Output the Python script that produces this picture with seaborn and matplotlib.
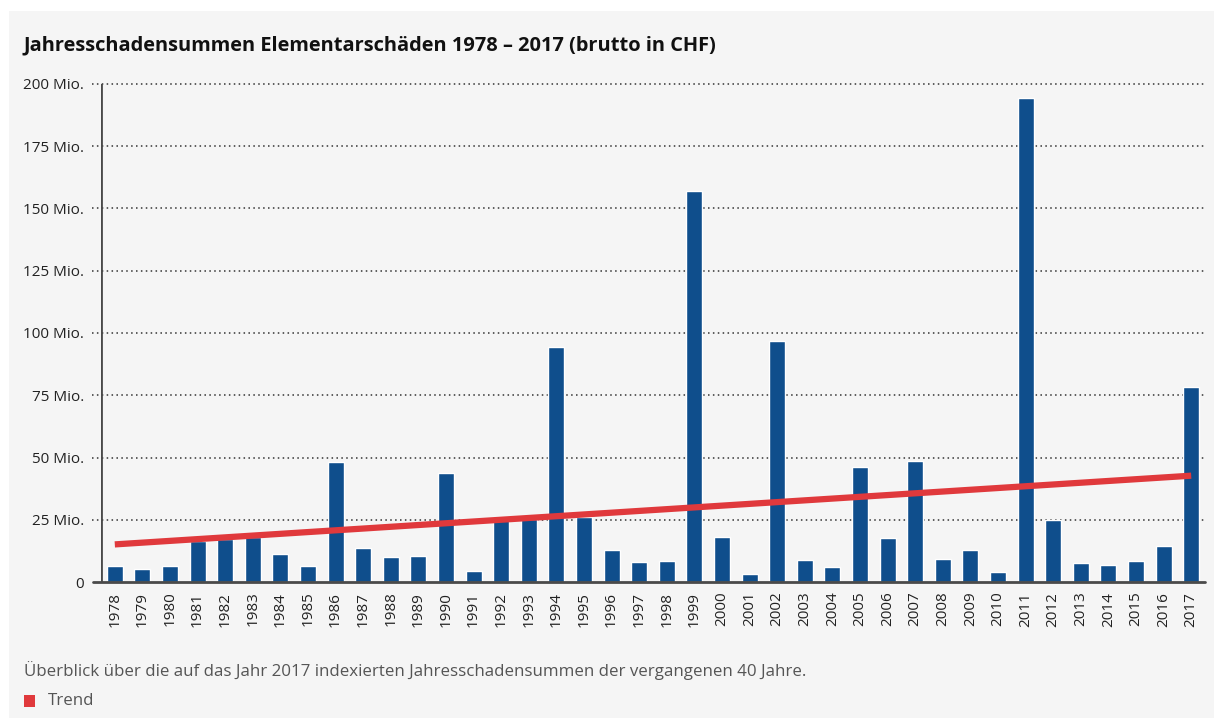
import numpy as np
import pandas as pd
import matplotlib
matplotlib.use("Agg")
import matplotlib.pyplot as plt
import seaborn as sns
from matplotlib.patches import Rectangle

# Daten (Mio. CHF, indexiert auf 2017)
years = [str(y) for y in range(1978, 2018)]
damage = [6.5, 5.4, 6.5, 16.6, 17.3, 17.9, 11.4, 6.5, 48.3, 13.8,
          10.2, 10.6, 43.9, 4.5, 26.2, 25.2, 94.2, 26.2, 13.0, 8.2,
          8.6, 156.9, 18.2, 3.3, 96.6, 9.0, 6.2, 46.3, 17.8, 48.7,
          9.4, 13.0, 4.1, 194.3, 25.0, 7.8, 7.0, 8.6, 14.6, 78.5]
trend_years = ["1978", "2017"]
trend_values = [15.1, 42.7]
y_ticks = [0, 25, 50, 75, 100, 125, 150, 175, 200]
y_labels = ["0"] + [f"{v} Mio." for v in y_ticks[1:]]

TITLE = "Jahresschadensummen Elementarschäden 1978 – 2017 (brutto in CHF)"
NOTE = "Überblick über die auf das Jahr 2017 indexierten Jahresschadensummen der vergangenen 40 Jahre."

BLUE = "#0f4e8c"
RED = "#e0393c"
AXIS = "#4a4a4a"
BG = "#f5f5f5"

sns.set_style("white")
plt.rcParams['font.family'] = ['Open Sans', 'DejaVu Sans']

df = pd.DataFrame({"Jahr": years, "Schaden": damage})

fig = plt.figure(figsize=(12.14, 7.18), dpi=100)
fig.patch.set_facecolor("white")
fig.patches.append(Rectangle((9 / 1214, 0), 1 - 9 / 1214, 1 - 11 / 718,
                             transform=fig.transFigure, facecolor=BG,
                             edgecolor="none", zorder=-10))

ax = fig.add_axes([101 / 1214, 1 - 582 / 718, 1104 / 1214, 498 / 718])
ax.set_facecolor("none")

sns.barplot(data=df, x="Jahr", y="Schaden", color=BLUE, width=0.58,
            saturation=1, ax=ax, zorder=3)

# Trendlinie
xpos = [years.index(y) for y in trend_years]
ax.plot(xpos, trend_values, color=RED, linewidth=4.5, solid_capstyle="butt",
        zorder=4)

ax.set_xlim(-0.5, len(years) - 0.5)
ax.set_ylim(0, 200)

# gepunktete Gitterlinien, etwas links über die Achse hinaus
for v in y_ticks[1:]:
    ax.axhline(v, xmin=-0.008, xmax=1, color="#333333", linestyle=(0, (1, 2.2)),
               linewidth=1.1, clip_on=False, zorder=1)

for s in ["top", "right", "left", "bottom"]:
    ax.spines[s].set_visible(False)
ax.axvline(-0.5, ymin=0, ymax=1, color=AXIS, linewidth=2, zorder=5)
ax.axhline(0, xmin=-0.007, xmax=1, color=AXIS, linewidth=2, clip_on=False,
           zorder=5)

ax.set_yticks(y_ticks)
ax.set_yticklabels(y_labels)
ax.tick_params(axis="y", length=0, pad=12, labelsize=11, labelcolor="#222222")

ax.set_xticks(range(len(years)))
ax.set_xticklabels(years, rotation=90)
ax.set_xticks(np.arange(-0.5, len(years), 1), minor=True)
ax.tick_params(axis="x", which="major", length=0, pad=7, labelsize=11,
               labelcolor="#222222")
ax.tick_params(axis="x", which="minor", length=6, width=1.8, color=AXIS,
               direction="out")
ax.set_xlabel("")
ax.set_ylabel("")

fig.text(24 / 1214, 1 - 45 / 718, TITLE, fontsize=14.45, fontweight="bold",
         color="#111111", va="center", ha="left")
fig.text(24 / 1214, 1 - 671 / 718, NOTE, fontsize=12.2, color="#555555",
         va="center", ha="left")
fig.patches.append(Rectangle((24 / 1214, 1 - 707 / 718), 11 / 1214, 12 / 718,
                             transform=fig.transFigure, facecolor=RED,
                             edgecolor="none"))
fig.text(48 / 1214, 1 - 701 / 718, "Trend", fontsize=12.2, color="#555555",
         va="center", ha="left")

fig.savefig("out.png", dpi=100)
